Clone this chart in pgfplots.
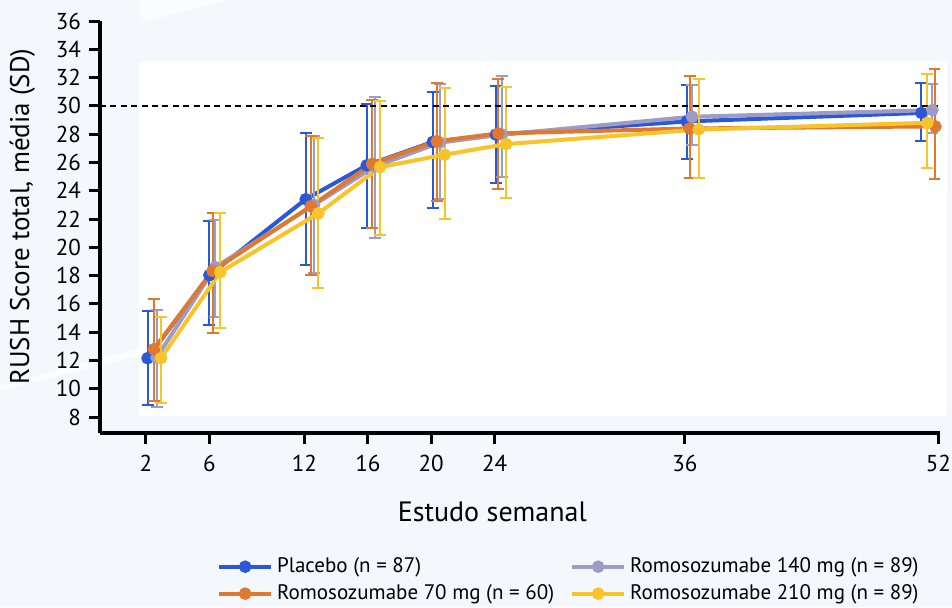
\documentclass[border=0pt]{standalone}
\usepackage{fontspec}
\setmainfont{PT Sans}
\usepackage{pgfplots}
\pgfplotsset{compat=1.18}
\usetikzlibrary{backgrounds}
\definecolor{cblue}{HTML}{2A58D6}
\definecolor{corange}{HTML}{E0782D}
\definecolor{cgray}{HTML}{9C9CC6}
\definecolor{cyellow}{HTML}{F9C42A}
\definecolor{bgc}{HTML}{F4F8FD}
\pgfplotsset{
  ebar/.style={
    error bars/error bar style={line width=1pt, #1},
    error bars/error mark options={rotate=90, mark size=3pt, line width=1pt, #1}},
}
\begin{document}
\begin{tikzpicture}
\begin{axis}[
  scale only axis, width=420pt, height=206pt,
  xmin=-0.9, xmax=52.1, ymin=6.87, ymax=36,
  axis lines=left, axis line style={-, line width=1.6pt},
  xtick={2,6,12,16,20,24,36,52},
  ytick={8,10,...,36},
  tick align=outside, major tick length=5.5pt,
  tick style={line width=1.5pt, black},
  /pgf/number format/assume math mode=true,
  tick label style={font=\fontsize{11.5}{13}\selectfont},
  yticklabel style={xshift=-0.5pt},
  xticklabel style={yshift=-2pt},
  xlabel={Estudo semanal},
  ylabel={RUSH Score total, média (SD)},
  xlabel style={font=\fontsize{14}{16}\selectfont, at={(axis description cs:0.467,0)}, anchor=center, yshift=-39.5pt},
  ylabel style={font=\fontsize{13.5}{15}\selectfont, at={(axis description cs:-0.0925,0.525)}, anchor=center},
  legend columns=2,
  legend cell align=left,
  legend style={at={(axis description cs:0.139,-0.292)}, anchor=north west, draw=none, fill=none, inner sep=0pt,
    font=\fontsize{10.5}{12}\selectfont, row sep=0.5pt,
    /tikz/every even column/.append style={column sep=6pt}},
  legend image code/.code={\draw[#1, mark repeat=2, mark phase=2] plot coordinates {(0pt,0pt) (13pt,0pt) (26pt,0pt)};},
  every axis plot/.append style={line width=2pt, mark=*, mark size=2.1pt, mark options={solid}},
  error bars/y dir=both, error bars/y explicit,
]
\addplot[cblue, ebar=cblue]
  table[x=x, y=y, y error plus=ep, y error minus=em] {
x y ep em
2.10 12.16 3.34 3.28
6.00 18.03 3.81 3.53
12.08 23.40 4.65 4.66
15.93 25.80 4.36 4.40
20.10 27.45 3.55 4.68
24.08 27.97 3.43 3.42
36.12 28.90 2.60 2.63
50.93 29.50 2.10 2.00
};
\addlegendentry{Placebo (n = 87)}
\addplot[cgray, ebar=cgray]
  table[x=x, y=y, y error plus=ep, y error minus=em] {
x y ep em
2.67 12.20 3.36 3.46
6.38 18.60 3.30 3.56
12.60 23.00 4.90 4.80
16.42 25.70 4.90 5.04
20.54 27.40 4.16 3.95
24.46 27.97 4.13 2.97
36.46 29.23 2.27 2.03
51.62 29.70 1.86 1.65
};
\addlegendentry{Romosozumabe 140 mg (n = 89)}
\addplot[corange, ebar=corange]
  table[x=x, y=y, y error plus=ep, y error minus=em] {
x y ep em
2.50 12.80 3.56 3.65
6.20 18.33 4.07 4.41
12.40 22.90 4.94 4.85
16.27 25.90 4.54 4.50
20.35 27.50 4.10 4.24
24.23 28.05 3.85 3.95
36.30 28.40 3.70 3.52
51.81 28.55 4.05 3.75
};
\addlegendentry{Romosozumabe 70 mg (n = 60)}
\addplot[cyellow, ebar=cyellow]
  table[x=x, y=y, y error plus=ep, y error minus=em] {
x y ep em
2.95 12.16 2.94 3.16
6.69 18.25 4.15 3.95
12.88 22.40 5.30 5.30
16.77 25.67 4.69 4.77
20.84 26.55 4.68 4.58
24.73 27.30 4.04 3.82
36.88 28.33 3.57 3.45
51.30 28.80 3.45 3.20
};
\addlegendentry{Romosozumabe 210 mg (n = 89)}
\addplot[black, line width=1.1pt, mark=none, dash pattern=on 3pt off 2.2pt, error bars/y dir=none, forget plot]
  coordinates {(-0.9,30) (52.1,30)};
\end{axis}
\begin{pgfonlayer}{background}
\fill[bgc] (-50pt,-87pt) rectangle (426pt,216.5pt);
\fill[white, opacity=0.7] (-50pt,21pt) -- (20pt,39pt) -- (20pt,42.5pt) -- (-50pt,24pt) -- cycle;
\fill[white, opacity=0.7] (20pt,205pt) -- (65pt,216.5pt) -- (20pt,216.5pt) -- cycle;
\fill[white] (19.5pt,8.5pt) rectangle (423.5pt,186pt);
\end{pgfonlayer}
\pgfresetboundingbox
\useasboundingbox (-50pt,-87pt) rectangle (426pt,216.5pt);
\end{tikzpicture}
\end{document}
